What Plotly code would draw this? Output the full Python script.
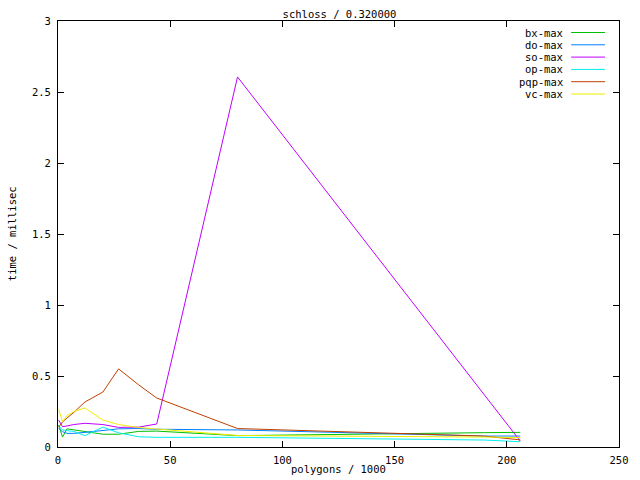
import plotly.graph_objects as go

# polygon counts (thousands)
polygons = [0.3, 2, 4, 7, 12, 20, 27, 36, 44, 80, 190, 206]

bx_max = [0.155, 0.07, 0.128, 0.12, 0.108, 0.09, 0.09, 0.11, 0.112, 0.08, 0.101, 0.103]
do_max = [0.13, 0.108, 0.096, 0.096, 0.103, 0.115, 0.128, 0.13, 0.125, 0.12, 0.077, 0.077]
so_max = [0.19, 0.143, 0.148, 0.158, 0.167, 0.158, 0.138, 0.14, 0.162, 2.606, 0.367, 0.042]
op_max = [0.15, 0.12, 0.115, 0.11, 0.08, 0.14, 0.10, 0.072, 0.068, 0.068, 0.049, 0.037]
pqp_max = [0.14, 0.176, 0.204, 0.243, 0.317, 0.387, 0.55, 0.437, 0.345, 0.13, 0.077, 0.05]
vc_max = [0.265, 0.18, 0.22, 0.25, 0.275, 0.19, 0.158, 0.137, 0.127, 0.081, 0.07, 0.067]

series_names = ["bx-max", "do-max", "so-max", "op-max", "pqp-max", "vc-max"]
series_values = [bx_max, do_max, so_max, op_max, pqp_max, vc_max]
colors = ["#00c000", "#0080ff", "#c000ff", "#00eeee", "#c04000", "#eeee00"]

x_ticks = [0, 50, 100, 150, 200, 250]
y_ticks = [0, 0.5, 1, 1.5, 2, 2.5, 3]

FONT = "DejaVu Sans Mono"
FS = 10.5

# plot-area geometry (pixels)
W, H = 640, 480
L, R, T, B = 58, 19, 21, 33
PW, PH = W - L - R, H - T - B

def px_x(px):
    return (px - L) / PW

def px_y(py):
    return (H - B - py) / PH

fig = go.Figure()
for name, vals, col in zip(series_names, series_values, colors):
    fig.add_trace(go.Scatter(x=polygons, y=vals, mode="lines", name=name,
                             line=dict(color=col, width=1), showlegend=False))

annotations = []
shapes = []
for i, (name, col) in enumerate(zip(series_names, colors)):
    py = 32.5 + 12.3 * i
    annotations.append(dict(text=name, x=px_x(566), y=px_y(py), xref="paper", yref="paper",
                            xanchor="right", yanchor="middle", showarrow=False, borderpad=0,
                            font=dict(family=FONT, size=FS, color="black")))
    shapes.append(dict(type="line", xref="paper", yref="paper",
                       x0=px_x(573), x1=px_x(607), y0=px_y(py), y1=px_y(py),
                       line=dict(color=col, width=1)))

annotations.append(dict(text="polygons / 1000", x=0.5, y=px_y(469), xref="paper", yref="paper",
                        xanchor="center", yanchor="middle", showarrow=False, borderpad=0,
                        font=dict(family=FONT, size=FS, color="black")))
annotations.append(dict(text="time / millisec", x=px_x(12), y=0.5, xref="paper", yref="paper",
                        xanchor="center", yanchor="middle", showarrow=False, textangle=-90,
                        borderpad=0, font=dict(family=FONT, size=FS, color="black")))

axis_common = dict(showline=True, linecolor="black", linewidth=1, mirror="ticks",
                   ticks="inside", ticklen=6, tickcolor="black", tickwidth=1,
                   showgrid=False, zeroline=False,
                   tickfont=dict(family=FONT, size=FS, color="black"))

fig.update_layout(
    width=W, height=H,
    margin=dict(l=L, r=R, t=T, b=B, pad=0),
    paper_bgcolor="white", plot_bgcolor="white",
    title=dict(text="schloss / 0.320000", x=(L + PW / 2) / W,
               xref="container", y=1 - 14 / H, yref="container",
               xanchor="center", yanchor="middle",
               font=dict(family=FONT, size=FS, color="black")),
    xaxis=dict(range=[0, 250], tickvals=x_ticks, ticklabelstandoff=3, **axis_common),
    yaxis=dict(range=[0, 3], tickvals=y_ticks, ticklabelstandoff=4, **axis_common),
    annotations=annotations,
    shapes=shapes,
    showlegend=False,
)

fig.write_html("out.html",
               config={"displayModeBar": False, "staticPlot": True},
               post_script="document.body.style.margin='0';document.body.style.padding='0';")
